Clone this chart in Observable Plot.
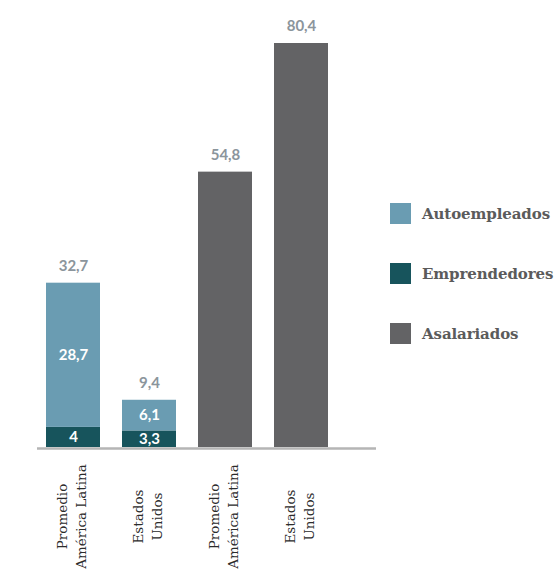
<!DOCTYPE html>
<html>
<head>
<meta charset="utf-8">
<script src="https://cdn.jsdelivr.net/npm/d3@7"></script>
<script src="https://cdn.jsdelivr.net/npm/@observablehq/plot@0.6"></script>
<style>
  html, body { margin: 0; padding: 0; background: #fff; }
  #wrap { position: relative; width: 557px; height: 569px; }
  #legend { position: absolute; left: 390px; top: 203px; font-family: "DejaVu Serif", serif; font-weight: bold; font-size: 15px; letter-spacing: -0.1px; color: #5b5b5b; }
  .item { display: flex; align-items: center; height: 21px; margin-bottom: 39px; white-space: nowrap; }
  .sw { width: 21px; height: 21px; margin-right: 11px; flex: none; }
</style>
</head>
<body>
<div id="wrap"></div>
<script>
// --- data ---
const groups = ["AL-cuenta", "EU-cuenta", "AL-asalariados", "EU-asalariados"];
const groupLabels = ["Promedio\nAmérica Latina", "Estados\nUnidos", "Promedio\nAmérica Latina", "Estados\nUnidos"];
const series = ["Autoempleados", "Emprendedores", "Asalariados"];
const seriesColors = ["#6a9cb2", "#17545c", "#636365"];
const emprendedores = [4, 3.3, null, null];
const autoempleados = [28.7, 6.1, null, null];
const asalariados = [null, null, 54.8, 80.4];
const totals = [32.7, 9.4, 54.8, 80.4];

// --- table for Plot (stack order: Emprendedores at the bottom) ---
const rows = [];
groups.forEach((g, i) => {
  if (emprendedores[i] != null) rows.push({group: g, serie: "Emprendedores", value: emprendedores[i]});
  if (autoempleados[i] != null) rows.push({group: g, serie: "Autoempleados", value: autoempleados[i]});
  if (asalariados[i] != null) rows.push({group: g, serie: "Asalariados", value: asalariados[i]});
});
const totalRows = groups.map((g, i) => ({group: g, total: totals[i]}));
const fmt = v => String(v).replace(".", ",");
const labelOf = new Map(groups.map((g, i) => [g, groupLabels[i]]));

const chart = Plot.plot({
  width: 557,
  height: 569,
  marginLeft: 37,
  marginRight: 181,
  marginTop: 43,
  marginBottom: 122,
  style: {background: "#fff", overflow: "visible"},
  x: {domain: groups, range: [37, 338], paddingInner: 0.283, paddingOuter: 0.104, axis: null},
  y: {domain: [0, 80.4], axis: null},
  color: {domain: series, range: seriesColors},
  marks: [
    Plot.barY(rows, Plot.stackY({x: "group", y: "value", fill: "serie", order: null})),
    Plot.text(rows.filter(d => d.serie !== "Asalariados"), Plot.stackY({
      x: "group", y: "value", text: d => fmt(d.value), fill: "white",
      fontFamily: "Lato", fontWeight: "bold", fontSize: 15
    })),
    Plot.text(totalRows, {
      x: "group", y: "total", text: d => fmt(d.total), dy: -17,
      fill: "#8b959c", fontFamily: "Lato", fontWeight: "bold", fontSize: 15
    }),
    Plot.ruleY([0], {stroke: "#b5b5b5", strokeWidth: 2.5, dy: 1}),
    Plot.text(groups, {
      x: d => d, frameAnchor: "bottom", dy: 69, dx: -3, rotate: -90,
      text: d => labelOf.get(d), textAnchor: "middle", lineAnchor: "middle", lineHeight: 1.4,
      fill: "#2b2b2b", fontFamily: "DejaVu Serif", fontSize: 13.5
    })
  ]
});

const wrap = document.getElementById("wrap");
wrap.appendChild(chart);

const color = chart.scale("color");
const legend = document.createElement("div");
legend.id = "legend";
color.domain.forEach((name, i) => {
  const item = document.createElement("div");
  item.className = "item";
  const sw = document.createElement("span");
  sw.className = "sw";
  sw.style.background = color.range[i];
  const t = document.createElement("span");
  t.textContent = name;
  item.appendChild(sw);
  item.appendChild(t);
  legend.appendChild(item);
});
wrap.appendChild(legend);
</script>
</body>
</html>
